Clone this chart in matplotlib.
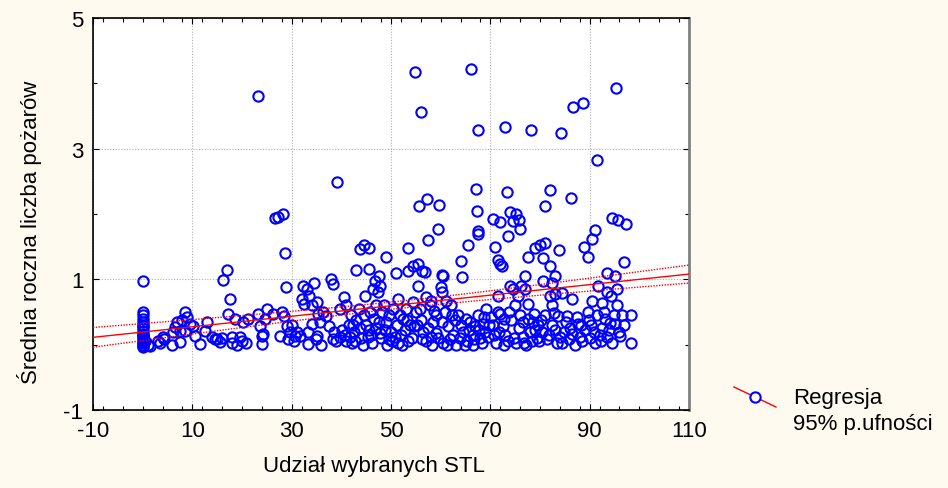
import numpy as np
import matplotlib
matplotlib.use("Agg")
import matplotlib.pyplot as plt
from matplotlib.lines import Line2D
from matplotlib.ticker import MultipleLocator, FixedLocator

plt.rcParams['font.family'] = ['Liberation Sans', 'DejaVu Sans']

# ---- data: (x = Udział wybranych STL, y = średnia roczna liczba pożarów)
pts_0_10 = [(0, 0.97), (0, 0.50), (0, 0.46), (0, 0.40), (0, 0.34), (0, 0.30), (0, 0.25), (0, 0.21),
            (0, 0.17), (0, 0.13), (0, 0.10), (0, 0.07), (0, 0.04), (0, 0.02), (0, 0.0), (0, -0.02),
            (0, -0.04), (0, 0.28), (0, 0.15), (1, 0.0), (1.5, -0.02), (0.5, 0.05),
            (3, 0.06), (3.5, 0.03), (4, 0.12), (4.2, 0.09),
            (6, 0.0), (6.1, 0.19), (6.5, 0.27), (7, 0.35), (7.5, 0.21), (7.5, 0.04), (8, 0.38),
            (8.5, 0.5), (8.6, 0.21), (9, 0.42), (9.5, 0.32)]
pts_10_27 = [(10.1, 0.28), (10.5, 0.13), (11.5, 0.01), (12.5, 0.21), (13, 0.35), (14, 0.12), (14.5, 0.09),
             (15, 0.08), (15.5, 0.04), (16, 0.1), (16.2, 0.99), (16.9, 1.15),
             (17.2, 0.47), (17.6, 0.70), (18, 0.12), (18, 0.02), (18.6, 0.40), (19, 0.0), (19.5, 0.12),
             (20, 0.06), (20.2, 0.35), (20.8, 0.02), (21.2, 0.40),
             (23.2, 3.8), (23.2, 0.47), (23.6, 0.28), (24, 0.13), (24, 0.01), (24.2, 0.17), (24.6, 0.40),
             (25, 0.55), (26.2, 0.47), (26.6, 1.94)]
pts_27_40 = [(27.2, 1.95), (28.2, 2.0), (28.6, 1.40), (28.9, 0.88), (28, 0.50), (28.4, 0.44), (27.6, 0.13),
             (29, 0.28), (30, 0.30), (29.7, 0.19), (30.7, 0.13), (29.3, 0.09), (31.7, 0.13), (31, 0.2),
             (30.5, 0.05), (32.3, 0.9), (33, 0.85), (34.5, 0.95), (32, 0.7), (32.5, 0.62), (33.5, 0.74),
             (34, 0.6), (35, 0.66), (33.3, 0.01), (33.3, 0.19), (34, 0.32), (35.3, 0.47), (35.8, 0.35),
             (36.3, 0.5), (35, 0.13), (36, 0.0), (34.8, 0.08),
             (37.9, 1.0), (38.3, 0.93), (37, 0.44), (37.5, 0.28), (38.5, 0.2), (38.3, 0.09), (39, 0.05),
             (39.7, 0.12), (39.1, 2.49), (39.7, 0.55)]
pts_40_55 = [(40.5, 0.73), (41, 0.6), (40.2, 0.22), (41, 0.05), (41.5, 0.3), (42.3, 0.3), (42.5, 0.2),
             (43, 0.38), (43, 1.14), (43.8, 1.47), (44.5, 1.53), (45.6, 1.48), (45.6, 1.16), (44.8, 0.75),
             (44, 0.1), (44.5, 0.45), (43.5, 0.55), (45, 0.3), (45.3, 0.12), (42, 0.45),
             (46.3, 0.85), (46.8, 0.97), (47.5, 1.05), (47.3, 0.8), (47.8, 0.9), (47, 0.6), (46, 0.15),
             (46.5, 0.4), (47, 0.25), (48, 0.1), (48.2, 0.5), (49, 1.34), (49, 0.35), (49.5, 0.08),
             (50, 0.2), (48.5, 0.6), (49.6, 0.45),
             (51, 1.1), (51.5, 0.7), (52, 0.15), (52.5, 0.4), (53.4, 1.48), (53.4, 1.13), (54.4, 1.2),
             (53, 0.55), (52.3, 0.0), (53.8, 0.3), (54.2, 0.1), (51.2, 0.3), (54.8, 4.17), (55, 0.5),
             (54.5, 0.65), (50.5, 0.55),
             (40.8, 0.15), (42.8, 0.05), (43.8, 0.25), (46.2, 0.02), (47.6, 0.35), (48.8, 0.22),
             (50.3, 0.05), (51.8, 0.45), (52.8, 0.22), (53.5, 0.05), (50.8, 0.12), (45.8, 0.5),
             (41.8, 0.12), (44.3, 0.0), (45.5, 0.22), (49.2, 0.0), (51.5, 0.02), (53.2, 0.38),
             (54.6, 0.28), (42.2, 0.02), (47.8, 0.18)]
pts_55_70 = [(55.6, 2.12), (56, 3.56), (57.2, 2.23), (59.7, 2.14), (59.5, 1.77), (57.4, 1.60), (55.4, 1.23),
             (56.3, 1.12), (56.8, 1.11), (55.4, 0.9), (57, 0.73), (57.8, 0.6), (58, 0.67), (55.8, 0.55),
             (56.5, 0.2), (57, 0.05), (58.5, 0.35), (59, 0.45), (59.5, 0.1), (58.3, 0.0), (55.3, 0.3),
             (60.2, 1.07), (60.4, 1.05),
             (60, 0.88), (60.2, 0.80), (61, 0.67), (62, 0.6), (60.8, 0.5), (61.5, 0.28), (60.5, 0.02),
             (61.3, 0.0), (62.5, 0.15), (64.1, 1.28), (64.3, 1.04), (65.5, 1.53), (63.5, 0.45), (64, 0.3),
             (64.5, 0.2), (65, 0.4), (63.8, 0.1), (65.3, 0.05),
             (66.1, 4.22), (67.5, 3.29), (67.1, 2.38), (67.3, 2.05), (67.5, 1.74), (67.6, 1.69), (66, 0.35),
             (66.5, 0.15), (67, 0.28), (67.5, 0.45), (68, 0.1), (68.3, 0.02), (69, 0.2), (68.5, 0.32),
             (69.2, 0.55), (66.5, 0.0), (69.5, 0.12),
             (56, 0.38), (57.5, 0.25), (59, 0.18), (62.8, 0.38), (63, 0.0), (65.8, 0.22), (68.8, 0.42),
             (58.7, 0.52), (61.8, 0.08),
             (56.2, 0.08), (58, 0.12), (60.2, 0.35), (62.2, 0.45), (64.8, 0.0), (66.8, 0.08),
             (67.8, 0.22), (69.8, 0.3)]
pts_70_85 = [(70.5, 1.92), (71, 1.5), (71.5, 1.3), (72, 1.23), (72.3, 1.2), (72, 1.88), (73, 3.33), (73.3, 2.34),
             (73.5, 1.67), (74, 2.03), (74.5, 1.9), (71.5, 0.75), (71.5, 0.5), (70.5, 0.3), (72, 0.47),
             (72.5, 0.28), (73, 0.15), (73.5, 0.05), (72.8, 0.0), (74, 0.9), (74.5, 0.85), (75, 0.6),
             (74.8, 0.1), (70.8, 0.15),
             (75.1, 2.0), (75.8, 1.91), (76, 1.77), (77.6, 1.34), (77, 1.05), (76.2, 0.9), (75.5, 0.75),
             (77, 0.85), (77.6, 0.62), (78.2, 3.29), (76, 0.45), (77.5, 0.4), (78, 0.2), (78.5, 0.35),
             (79, 1.48), (79.3, 0.1), (76.5, 0.12), (78.8, 0.47), (79.5, 0.3), (76.8, 0.02),
             (80, 1.52), (81, 1.56), (81, 2.12), (82, 2.37), (80.6, 1.33), (82, 1.2), (80.6, 0.97),
             (82.4, 0.95), (82, 0.75), (82.4, 0.6), (83, 1.05), (83.8, 1.45), (84.2, 3.24), (84.4, 0.79),
             (83, 0.78), (81, 0.45), (80.5, 0.2), (82.5, 0.3), (83.6, 0.44), (84, 0.12), (83.5, 0.03),
             (81.5, 0.08), (84.8, 0.2),
             (71.2, 0.02), (74.2, 0.38), (75.8, 0.25), (79.8, 0.05), (80.2, 0.38), (83, 0.22), (77.2, 0.0),
             (73.8, 0.5), (70.2, 0.42),
             (71.8, 0.2), (72.8, 0.4), (75.2, 0.02), (76.5, 0.35), (78.3, 0.05), (79, 0.22), (81.8, 0.15),
             (82.8, 0.48), (84.5, 0.02)]
pts_85_99 = [(86.2, 2.25), (86.6, 3.64), (88.6, 3.70), (86.4, 0.7), (85.5, 0.44), (87.7, 0.32), (85.2, 0.35),
             (86.5, 0.16), (87, 0.0), (88, 0.12), (88.8, 1.5), (89.6, 1.34), (89.6, 0.5), (89, 0.22),
             (88.5, 0.05), (85.8, 0.08),
             (90.5, 1.62), (91, 1.75), (91.5, 2.83), (91.7, 0.9), (90.5, 0.67), (92.5, 0.64), (93.5, 1.1),
             (93.5, 0.8), (91.5, 0.46), (93, 0.4), (92, 0.15), (91, 0.02), (94, 0.33), (92.5, 0.25),
             (93.5, 0.12), (94.5, 1.94), (95, 1.05), (94.2, 0.75), (90.3, 0.3), (94.8, 0.45),
             (95.3, 3.93), (95.8, 1.91), (97.3, 1.85), (96.9, 1.27), (95.5, 0.85), (96, 0.2), (96.5, 0.46),
             (96.2, 0.14), (98.3, 0.46), (98.3, 0.03), (95.5, 0.6),
             (87.5, 0.42), (90, 0.1), (94.5, 0.02), (92.8, 0.5), (97, 0.3), (89.8, 0.38),
             (86, 0.25), (88.2, 0.3), (90.8, 0.2), (92.2, 0.05), (93.8, 0.22), (95.2, 0.32)]

# regression line and 95% confidence band
reg_intercept = 0.193      # value of the fitted line at x = 0
reg_slope = 0.00807        # change per unit of x
ci_center_x = 53.0         # where the band is narrowest
ci_half_min = 0.055        # half-width of the band at its narrowest
ci_half_curv = 4.92e-6     # growth of squared half-width with (x - center)^2

x_tick_labels = ["-10", "10", "30", "50", "70", "90", "110"]
y_tick_labels = ["-1", "1", "3", "5"]

all_pts = np.array(pts_0_10 + pts_10_27 + pts_27_40 + pts_40_55 + pts_55_70 + pts_70_85 + pts_85_99)
x = all_pts[:, 0]
y = all_pts[:, 1]

xx = np.linspace(-10, 110, 200)
yy = reg_intercept + reg_slope * xx
half = np.sqrt(ci_half_min ** 2 + ci_half_curv * (xx - ci_center_x) ** 2)

bg = '#fffaf0'
W, H = 948, 489
fig = plt.figure(figsize=(9.48, 4.89), dpi=100, facecolor=bg)
ax = fig.add_axes([93 / W, 1 - 411 / H, (689 - 93) / W, (411 - 19) / H])
ax.set_facecolor('white')

ax.plot(x, y, linestyle='none', marker='o', markersize=7.4, markerfacecolor='none',
        markeredgecolor='#0000ff', markeredgewidth=1.5, zorder=3)
ax.plot(xx, yy, color='#ff0000', lw=1.0, zorder=4)
ax.plot(xx, yy + half, color='#ff0000', lw=1.0, ls=(0, (1, 1)), zorder=4)
ax.plot(xx, yy - half, color='#ff0000', lw=1.0, ls=(0, (1, 1)), zorder=4)

ax.set_xlim(-10, 110)
ax.set_ylim(-1, 5)
ax.xaxis.set_major_locator(FixedLocator([-10, 10, 30, 50, 70, 90, 110]))
ax.set_xticklabels(x_tick_labels)
ax.xaxis.set_minor_locator(MultipleLocator(4))
ax.yaxis.set_major_locator(FixedLocator([-1, 1, 3, 5]))
ax.set_yticklabels(y_tick_labels)
ax.yaxis.set_minor_locator(FixedLocator([0, 2, 4]))
ax.tick_params(which='both', direction='in', top=True, right=True, labelsize=16, colors='black')
ax.tick_params(which='major', length=4, width=0.8, pad=7)
ax.tick_params(which='minor', length=3, width=0.8)
ax.grid(True, which='major', color='#b0b0b0', ls=(0, (1, 1.5)), lw=0.8)
ax.set_axisbelow(True)

for side in ['left', 'bottom', 'top']:
    ax.spines[side].set_color('black')
    ax.spines[side].set_linewidth(1.2)
ax.spines['right'].set_color('#808080')
ax.spines['right'].set_linewidth(2.0)

xl = ax.set_xlabel('Udział wybranych STL', fontsize=16)
xl.set_va('center')
ax.xaxis.set_label_coords((374 - 93) / 596, (411 - 467) / 392)
yl = ax.set_ylabel('Średnia roczna liczba pożarów', fontsize=16)
yl.set_va('center')
ax.yaxis.set_label_coords((30 - 93) / 596, (411 - 232) / 392)

# legend (drawn in figure pixel coordinates)
fig.add_artist(Line2D([734 / W, 776 / W], [1 - 388 / H, 1 - 408 / H], color='#ff0000', lw=1.0,
                      transform=fig.transFigure))
fig.add_artist(Line2D([755 / W], [1 - 398 / H], marker='o', markersize=7.4, markerfacecolor='white',
                      markeredgecolor='#0000ff', markeredgewidth=1.5, transform=fig.transFigure))
fig.text(793 / W, 1 - 399 / H, 'Regresja', fontsize=16, va='center', ha='left')
fig.text(793 / W, 1 - 425 / H, '95% p.ufności', fontsize=16, va='center', ha='left')

fig.savefig('out.png', dpi=100, facecolor=bg)
